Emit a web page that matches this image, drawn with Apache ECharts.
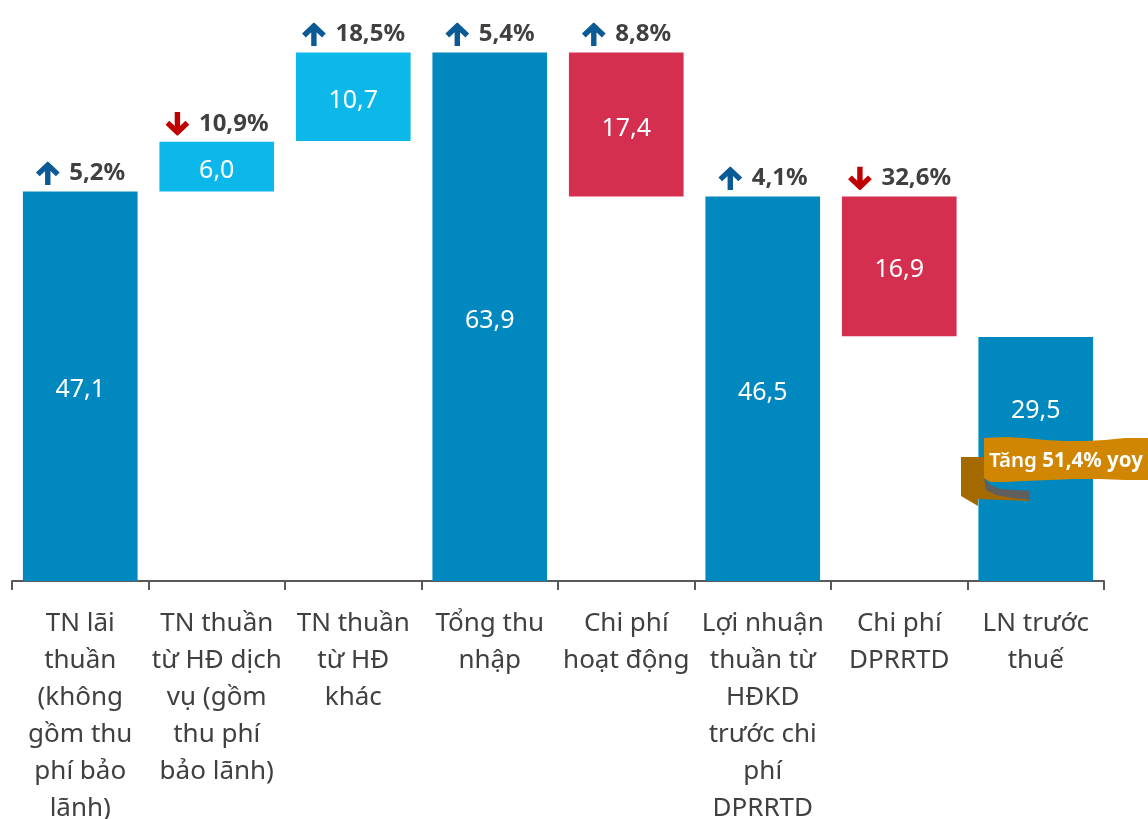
<!DOCTYPE html>
<html>
<head>
<meta charset="utf-8">
<script src="https://cdn.jsdelivr.net/npm/echarts@6/dist/echarts.min.js"></script>
<style>
  html, body { margin: 0; padding: 0; background: #ffffff; }
  #chart { width: 1148px; height: 819px; }
</style>
</head>
<body>
<div id="chart"></div>
<script>
// Waterfall: items, values (nghìn tỷ đồng), yoy change
var categories = [
  'TN lãi\nthuần\n(không\ngồm thu\nphí bảo\nlãnh)',
  'TN thuần\ntừ HĐ dịch\nvụ (gồm\nthu phí\nbảo lãnh)',
  'TN thuần\ntừ HĐ\nkhác',
  'Tổng thu\nnhập',
  'Chi phí\nhoạt động',
  'Lợi nhuận\nthuần từ\nHĐKD\ntrước chi\nphí\nDPRRTD',
  'Chi phí\nDPRRTD',
  'LN trước\nthuế'
];
var values = [47.1, 6.0, 10.7, 63.9, 17.4, 46.5, 16.9, 29.5];
// 'total' bars start at 0, 'up' adds to running total, 'down' subtracts
var kinds = ['total', 'up', 'up', 'total', 'down', 'total', 'down', 'total'];
var yoyChange = ['5,2%', '10,9%', '18,5%', '5,4%', '8,8%', '4,1%', '32,6%', null];
var yoyDir = ['up', 'down', 'up', 'up', 'up', 'up', 'down', null];

var barColors = { total: '#0088bf', up: '#0cb8ea', down: '#d52f50' };

function fmt(v) {
  return v.toFixed(1).replace('.', ',');
}

// build invisible base + visible part of the waterfall
var base = [], visible = [];
var running = 0;
for (var i = 0; i < values.length; i++) {
  if (kinds[i] === 'total') {
    base.push(0);
    running = values[i];
  } else if (kinds[i] === 'up') {
    base.push(running);
    running = running + values[i];
  } else {
    running = running - values[i];
    base.push(running);
  }
  visible.push({ value: values[i], itemStyle: { color: barColors[kinds[i]] } });
}
// third bar ends on the total (rounding in source)
base[2] = values[3] - values[2];
// last bar: value sits higher, above the ribbon
visible[7].label = { offset: [0, -48] };

function arrowSvg(dir, color) {
  var p = dir === 'up'
    ? '<path d="M2.5 13 L12.5 3.5 L22.5 13 M12.5 4.5 V24" />'
    : '<path d="M2.5 11 L12.5 20.5 L22.5 11 M12.5 19.5 V0" />';
  var svg = '<svg xmlns="http://www.w3.org/2000/svg" width="25" height="24" viewBox="0 0 25 24">' +
    '<g fill="none" stroke="' + color + '" stroke-width="5.4" stroke-linejoin="miter">' + p + '</g></svg>';
  return 'data:image/svg+xml;charset=utf-8,' + encodeURIComponent(svg);
}

var chart = echarts.init(document.getElementById('chart'));

var option = {
  backgroundColor: '#ffffff',
  animation: false,
  grid: { left: 12, right: 44, top: 2, bottom: 238, containLabel: false, outerBoundsMode: 'none' },
  xAxis: {
    type: 'category',
    data: categories,
    axisLine: { lineStyle: { color: '#595959', width: 2 } },
    axisTick: { show: true, length: 9, lineStyle: { color: '#595959', width: 2 } },
    axisLabel: {
      interval: 0,
      margin: 24,
      color: '#404040',
      fontFamily: 'Noto Sans',
      fontSize: 26,
      lineHeight: 37
    }
  },
  yAxis: {
    type: 'value',
    min: 0,
    max: 70,
    show: false,
    splitLine: { show: false }
  },
  series: [
    {
      name: 'base',
      type: 'bar',
      stack: 'wf',
      barWidth: '84%',
      itemStyle: { color: 'transparent' },
      emphasis: { disabled: true },
      data: base
    },
    {
      name: 'value',
      type: 'bar',
      stack: 'wf',
      barWidth: '84%',
      data: visible,
      label: {
        show: true,
        position: 'inside',
        offset: [0, 4],
        color: '#ffffff',
        fontFamily: 'Noto Sans',
        fontSize: 25,
        formatter: function (d) { return fmt(d.value); }
      }
    },
    {
      // yoy change labels sitting on top of each visible bar
      name: 'yoy',
      type: 'bar',
      stack: 'wf',
      barWidth: '84%',
      itemStyle: { color: 'transparent' },
      data: values.map(function () { return 0; }),
      label: {
        show: true,
        position: 'top',
        distance: 6,
        formatter: function (d) {
          var t = yoyChange[d.dataIndex];
          if (!t) return '';
          return '{' + yoyDir[d.dataIndex] + '|}{t|' + t + '}';
        },
        rich: {
          up: {
            width: 25, height: 24,
            backgroundColor: { image: arrowSvg('up', '#0a5a96') }
          },
          down: {
            width: 25, height: 24,
            backgroundColor: { image: arrowSvg('down', '#c00000') }
          },
          t: {
            color: '#404040',
            fontFamily: 'Noto Sans',
            fontWeight: 'bold',
            fontSize: 24,
            padding: [0, 0, 0, 9]
          }
        }
      }
    }
  ],
  graphic: [
    {
      type: 'polygon',
      z: 100,
      shape: { points: [[961, 457], [986, 457], [986, 488], [1030, 492], [1030, 501], [978, 499], [978, 506], [961, 496]] },
      style: { fill: '#a46a00' }
    },
    {
      type: 'polygon',
      z: 101,
      shape: { points: [[984, 478], [990, 485], [1000, 489], [1015, 490], [1030, 491], [1030, 500], [1012, 498], [996, 495], [986, 490]] },
      style: { fill: '#5f5f5f' }
    },
    {
      type: 'polygon',
      z: 102,
      shape: {
        points: [
          [984, 438], [1005, 437], [1025, 438], [1045, 440], [1065, 441], [1085, 441], [1105, 440], [1125, 438], [1150, 438],
          [1150, 480], [1125, 480], [1100, 479], [1075, 479], [1050, 480], [1025, 481], [1005, 482], [990, 482], [984, 478]
        ]
      },
      style: { fill: '#d08600' }
    },
    {
      type: 'text',
      z: 103,
      x: 989,
      y: 461,
      style: {
        text: '{a|Tăng }{b|51,4% yoy}',
        verticalAlign: 'middle',
        rich: {
          a: { fill: '#ffffff', fontFamily: 'Noto Sans', fontWeight: 600, fontSize: 20.5 },
          b: { fill: '#ffffff', fontFamily: 'Noto Sans', fontWeight: 'bold', fontSize: 20.5 }
        }
      }
    }
  ]
};

chart.setOption(option);
</script>
</body>
</html>
